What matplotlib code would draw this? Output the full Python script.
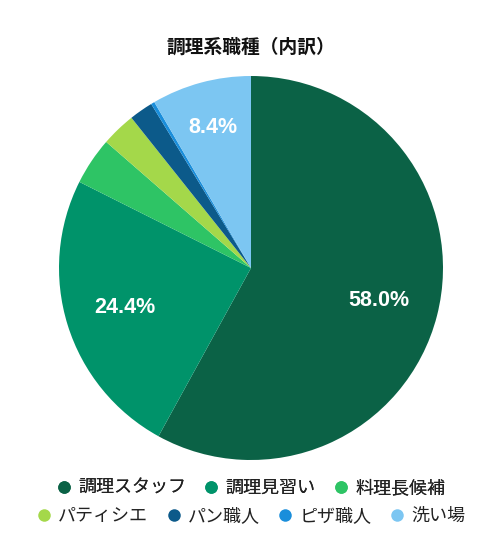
import matplotlib
matplotlib.use("Agg")
import matplotlib.pyplot as plt
from matplotlib.lines import Line2D
import numpy as np

plt.rcParams['font.family'] = ['Noto Sans CJK JP', 'DejaVu Sans']

title = "調理系職種（内訳）"
categories = ["調理スタッフ", "調理見習い", "料理長候補", "パティシエ", "パン職人", "ピザ職人", "洗い場"]
values = [58.0, 24.4, 4.0, 2.9, 2.0, 0.3, 8.4]
colors = ["#0B6246", "#00936A", "#2EC465", "#A4D84A", "#0C5A8A", "#1A8EDB", "#7CC6F2"]
shown_labels = {"調理スタッフ": 0.69, "調理見習い": 0.69, "洗い場": 0.76}

W, H = 502, 552
fig = plt.figure(figsize=(W / 100, H / 100), dpi=100)
cx, cy, r = 251, 268, 192
ax = fig.add_axes([(cx - r) / W, (H - cy - r) / H, 2 * r / W, 2 * r / H])

wedges, _ = ax.pie(values, colors=colors, startangle=90, counterclock=False,
                   radius=1.0, wedgeprops=dict(linewidth=0))
cum = 0
for cat, v in zip(categories, values):
    mid = cum + v / 2
    cum += v
    if cat in shown_labels:
        ang = np.deg2rad(90 - mid / 100 * 360)
        d = shown_labels[cat]
        ax.text(d * np.cos(ang), d * np.sin(ang), f"{v:.1f}%", ha="center", va="center",
                color="white", fontsize=15.5, fontweight="bold",
                family=['Liberation Sans', 'DejaVu Sans'])
ax.set_xlim(-1, 1)
ax.set_ylim(-1, 1)
ax.set_aspect("equal")
ax.axis("off")

fig.text(0.5, 1 - 47 / H, title, ha="center", va="center", fontsize=13.5, fontweight="bold",
         color="#111111")

def handles(idx):
    return [Line2D([], [], marker="o", linestyle="", markersize=9, markerfacecolor=colors[i],
                   markeredgewidth=0, label=categories[i]) for i in idx]

common = dict(frameon=False, fontsize=13, handletextpad=0.4, columnspacing=1.0,
              handlelength=0.8, borderaxespad=0, borderpad=0, labelcolor="#222222")
leg1 = fig.legend(handles=handles([0, 1, 2]), ncol=3, loc="center",
                  bbox_to_anchor=(0.5, 1 - 488 / H), **common)
fig.add_artist(leg1)
leg2 = fig.legend(handles=handles([3, 4, 5, 6]), ncol=4, loc="center",
                  bbox_to_anchor=(0.5, 1 - 516 / H), **common)

fig.savefig("out.png", dpi=100)
